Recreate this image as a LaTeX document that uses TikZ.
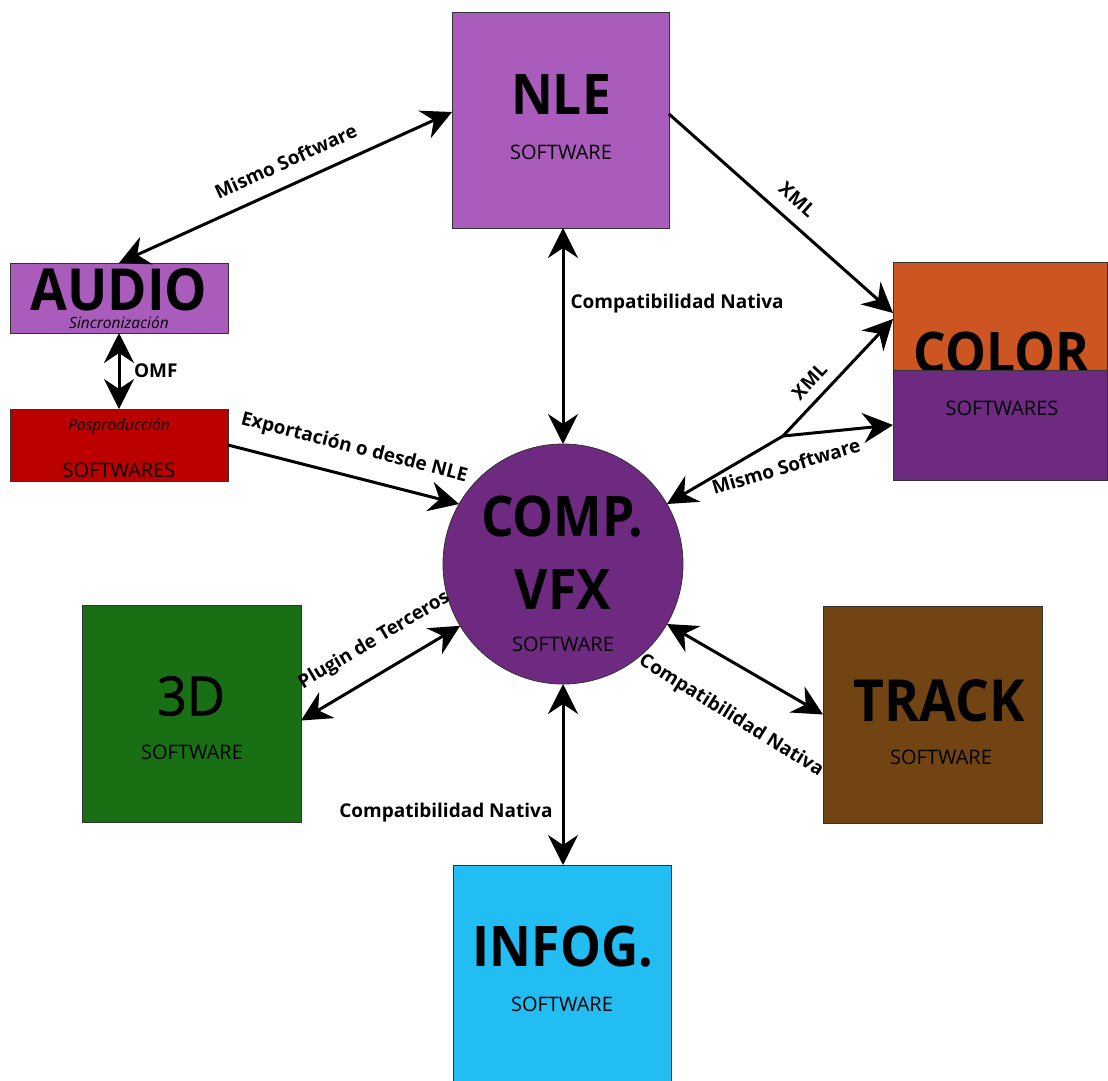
\documentclass[tikz,border=0pt]{standalone}
\usepackage{fontspec}
\setmainfont{Open Sans}
\newfontfamily\headfont[FakeStretch=0.92]{Open Sans}
\newfontfamily\headmedfont[FakeStretch=0.97,FakeBold=1.2]{Open Sans}
\usetikzlibrary{arrows.meta,calc}

\definecolor{lilac}{HTML}{A95CBB}
\definecolor{posred}{HTML}{BB0000}
\definecolor{gradeorange}{HTML}{CD5521}
\definecolor{vfxpurple}{HTML}{6E2A80}
\definecolor{greenbox}{HTML}{196F14}
\definecolor{brownbox}{HTML}{724414}
\definecolor{cyanbox}{HTML}{22BDF2}

\tikzset{
  box/.style={rectangle, draw=black!80, line width=0.8pt, inner sep=0pt, outer sep=0pt},
  conn/.style={line width=3pt, black},
  title/.style={font=\headfont\fontsize{56}{60}\selectfont\bfseries, inner sep=0pt},
  bigtitle/.style={font=\headfont\fontsize{58}{60}\selectfont\bfseries, inner sep=0pt},
  titlereg/.style={font=\headmedfont\fontsize{54}{60}\selectfont, inner sep=0pt},
  sub/.style={font=\fontsize{20}{22}\selectfont, inner sep=0pt},
  note/.style={font=\fontsize{15.5}{17}\selectfont\itshape, inner sep=0pt},
  lbl/.style={font=\fontsize{19}{21}\selectfont\bfseries, inner sep=0pt},
  >={Stealth[length=30pt,width=30pt,inset=10pt]}
}

\begin{document}
\begin{tikzpicture}[x=1pt,y=-1pt]
\useasboundingbox (0,0) rectangle (1108,1080);
\clip (0,0) rectangle (1108,1080);
\fill[white] (0,0) rectangle (1108,1080);

% boxes and their texts
\node[box, fill=lilac, minimum width=217pt, minimum height=216pt] (nle) at (560.5,120) {};
\node[title] (nleT) at (561,95) {NLE};
\node[sub] (nleS) at (561,152) {SOFTWARE};

\node[box, fill=lilac, minimum width=218pt, minimum height=70pt] (audio) at (119,298) {};
\node[bigtitle] (audioT) at (119,290) {AUDIO};
\node[note, anchor=base] (audioN) at (119,328) {Sincronización};

\node[box, fill=posred, minimum width=218pt, minimum height=72pt] (pospro) at (119,445) {};
\node[note, anchor=base] (posproN) at (119,430) {Posproducción};
\node[sub] (posproS) at (119,470.5) {SOFTWARES};

\node[box, fill=gradeorange, minimum width=214pt, minimum height=108pt] (colorTop) at (1000,316) {};
\node[title, anchor=base] (colorT) at (1001.5,372) {COLOR};
\node[box, fill=vfxpurple, minimum width=214pt, minimum height=110pt] (colorBot) at (1000,425) {};
\node[sub] (colorS) at (1002,408.5) {SOFTWARES};

\node[circle, draw=black!80, line width=0.8pt, fill=vfxpurple, minimum size=240pt, inner sep=0pt, outer sep=0pt] (comp) at (563,564) {};
\node[title] (compT1) at (562,517) {COMP.};
\node[title] (compT2) at (563,589) {VFX};
\node[sub] (compS) at (563,644) {SOFTWARE};

\node[box, fill=greenbox, minimum width=219pt, minimum height=217pt] (threeD) at (191.5,713.5) {};
\node[titlereg] (threeDT) at (191,696) {3D};
\node[sub] (threeDS) at (192,752.5) {SOFTWARE};

\node[box, fill=brownbox, minimum width=219pt, minimum height=217pt] (track) at (932.5,714.5) {};
\node[bigtitle] (trackT) at (939,701) {TRACK};
\node[sub] (trackS) at (941,757) {SOFTWARE};

\node[box, fill=cyanbox, minimum width=218pt, minimum height=235pt] (infog) at (562,982.5) {};
\node[title] (infogT) at (563,947) {INFOG.};
\node[sub] (infogS) at (562,1004) {SOFTWARE};

% connectors
\draw[conn,<->] (audio.north) -- ([yshift=8pt]nle.west)
  node[lbl, pos=0.53, sloped, above=15pt] (l1) {Mismo Software};
\draw[conn,->] ([yshift=6pt]nle.east) -- ([yshift=3pt]colorTop.west)
  node[lbl, pos=0.51, sloped, above=13pt] (l2) {XML};
\draw[conn,<->] (comp.north |- nle.south) -- (comp.north)
  node[lbl, pos=0.35, right=6pt] (l3) {Compatibilidad Nativa};
\draw[conn,<->] (audio.south) -- (pospro.north)
  node[lbl, pos=0.5, right=13.5pt] (l4) {OMF};
\draw[conn,->] (pospro.east) -- (comp.150)
  node[lbl, pos=0.516, sloped, above=17pt] (l5) {Exportación o desde NLE};

\coordinate (fork) at (783,436);
\draw[conn,->] (fork) -- (comp.30);
\draw[conn,->] (fork) -- ([yshift=-3pt]colorTop.west)
  node[lbl, pos=0.36, sloped, above=10pt] (l6) {XML};
\draw[conn,->] (fork) -- (colorBot.west);
\node[lbl, rotate=16.5, anchor=base] (l7) at (788,473) {Mismo Software};

\draw[conn,<->] ([yshift=-7pt]threeD.east) -- (comp.211)
  node[lbl, pos=0.56, sloped, above=20pt] (l8) {Plugin de Terceros};
\draw[conn,<->] (comp.-30) -- (track.west);
\node[lbl, rotate=-32] (l9) at (731,716) {Compatibilidad Nativa};
\draw[conn,<->] (comp.south) -- (comp.south |- infog.north)
  node[lbl, pos=0.71, left=9pt] (l10) {Compatibilidad Nativa};
\end{tikzpicture}
\end{document}
